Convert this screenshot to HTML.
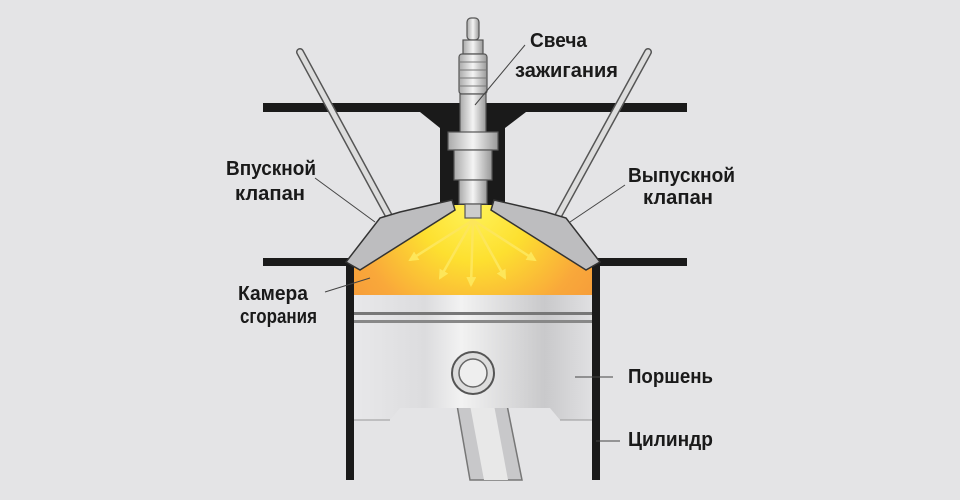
<!DOCTYPE html><html><head><meta charset="utf-8"><style>
body{margin:0;background:#e4e4e6}
svg{display:block}
text{font-family:"Liberation Sans Narrow","Liberation Sans",sans-serif;font-weight:bold;font-size:20px;fill:#1a1a1a}
</style></head><body>
<svg width="960" height="500" viewBox="0 0 960 500">
<defs>
<radialGradient id="fire" cx="473" cy="205" r="160" gradientUnits="userSpaceOnUse">
<stop offset="0" stop-color="#fff35a"/><stop offset="0.35" stop-color="#fde030"/><stop offset="0.75" stop-color="#f9a83a"/><stop offset="1" stop-color="#f59a3a"/></radialGradient>
<linearGradient id="pist" x1="0" x2="1"><stop offset="0" stop-color="#e8e8ea"/><stop offset="0.3" stop-color="#dcdcde"/><stop offset="0.45" stop-color="#f2f2f2"/><stop offset="0.8" stop-color="#c9c9cb"/><stop offset="1" stop-color="#e0e0e2"/></linearGradient>
<linearGradient id="metal" x1="0" x2="1"><stop offset="0" stop-color="#aaa"/><stop offset="0.5" stop-color="#f4f4f4"/><stop offset="1" stop-color="#999"/></linearGradient>
<marker id="ah" viewBox="0 0 10 10" refX="8" refY="5" markerWidth="4" markerHeight="4" orient="auto"><path d="M0,0 L10,5 L0,10 z" fill="#fde65a"/></marker>
</defs>
<rect width="960" height="500" fill="#e4e4e6"/>
<rect x="263" y="103" width="424" height="9" fill="#1a1a1a"/>
<polygon points="420,112 526,112 505,128 505,205 440,205 440,128" fill="#1a1a1a"/>
<polygon points="354,265 450,205 497,205 592,265 592,295 354,295" fill="url(#fire)"/>
<rect x="263" y="258" width="90" height="8" fill="#1a1a1a"/>
<rect x="597" y="258" width="90" height="8" fill="#1a1a1a"/>
<rect x="346" y="262" width="8" height="218" fill="#1a1a1a"/>
<rect x="592" y="262" width="8" height="218" fill="#1a1a1a"/>
<line x1="300" y1="52" x2="390" y2="218" stroke="#555" stroke-width="8" stroke-linecap="round"/>
<line x1="300" y1="52" x2="390" y2="218" stroke="#ddd" stroke-width="5" stroke-linecap="round"/>
<line x1="648" y1="52" x2="557" y2="218" stroke="#555" stroke-width="8" stroke-linecap="round"/>
<line x1="648" y1="52" x2="557" y2="218" stroke="#ddd" stroke-width="5" stroke-linecap="round"/>
<polygon points="346,262 380,218 400,212 452,200 455,210 360,270" fill="#bdbdbf" stroke="#333" stroke-width="1.5"/>
<polygon points="600,262 566,218 546,212 494,200 491,210 586,270" fill="#bdbdbf" stroke="#333" stroke-width="1.5"/>
<g stroke="#fde65a" stroke-width="2.5" fill="none" marker-end="url(#ah)">
<line x1="473" y1="220" x2="410" y2="260"/><line x1="473" y1="220" x2="440" y2="278"/><line x1="473" y1="220" x2="471" y2="285"/><line x1="473" y1="220" x2="505" y2="278"/><line x1="473" y1="220" x2="535" y2="260"/></g>
<polygon points="457,405 507,405 522,480 470,480" fill="#c8c8ca" stroke="#777" stroke-width="1.5"/>
<polygon points="470,405 494,405 508,480 484,480" fill="#e8e8e8"/>
<polygon points="354,295 592,295 592,420 560,420 550,408 400,408 390,420 354,420" fill="url(#pist)"/>
<line x1="354" y1="420" x2="390" y2="420" stroke="#999" stroke-width="1"/>
<line x1="560" y1="420" x2="592" y2="420" stroke="#999" stroke-width="1"/>
<rect x="354" y="312" width="238" height="3" fill="#777"/>
<rect x="354" y="320" width="238" height="3" fill="#888"/>
<circle cx="473" cy="373" r="21" fill="#ddd" stroke="#555" stroke-width="2"/>
<circle cx="473" cy="373" r="14" fill="#eee" stroke="#666" stroke-width="1.5"/>
<g stroke="#555" stroke-width="1.2">
<rect x="467" y="18" width="12" height="22" rx="4" fill="url(#metal)"/>
<rect x="463" y="40" width="20" height="14" fill="url(#metal)"/>
<rect x="459" y="54" width="28" height="40" rx="3" fill="url(#metal)"/>
<rect x="460" y="94" width="26" height="40" fill="url(#metal)"/>
<rect x="448" y="132" width="50" height="18" fill="url(#metal)"/>
<rect x="454" y="150" width="38" height="30" fill="url(#metal)"/>
<rect x="459" y="180" width="28" height="24" fill="url(#metal)"/>
<rect x="465" y="204" width="16" height="14" fill="#ccc"/>
</g>
<g stroke="#777" stroke-width="1"><line x1="460" y1="62" x2="486" y2="62"/><line x1="460" y1="70" x2="486" y2="70"/><line x1="460" y1="78" x2="486" y2="78"/><line x1="460" y1="86" x2="486" y2="86"/></g>
<g stroke="#444" stroke-width="1">
<line x1="525" y1="45" x2="475" y2="105"/>
<line x1="315" y1="178" x2="375" y2="222"/>
<line x1="625" y1="185" x2="570" y2="222"/>
<line x1="325" y1="292" x2="370" y2="278"/>
<line x1="575" y1="377" x2="613" y2="377"/>
<line x1="596" y1="441" x2="620" y2="441"/>
</g>
<text x="530" y="47" textLength="57" lengthAdjust="spacingAndGlyphs">Свеча</text>
<text x="515" y="77" textLength="103" lengthAdjust="spacingAndGlyphs">зажигания</text>
<text x="226" y="175" textLength="90" lengthAdjust="spacingAndGlyphs">Впускной</text>
<text x="235" y="200" textLength="70" lengthAdjust="spacingAndGlyphs">клапан</text>
<text x="628" y="182" textLength="107" lengthAdjust="spacingAndGlyphs">Выпускной</text>
<text x="643" y="204" textLength="70" lengthAdjust="spacingAndGlyphs">клапан</text>
<text x="238" y="300" textLength="70" lengthAdjust="spacingAndGlyphs">Камера</text>
<text x="240" y="323" textLength="77" lengthAdjust="spacingAndGlyphs">сгорания</text>
<text x="628" y="383" textLength="85" lengthAdjust="spacingAndGlyphs">Поршень</text>
<text x="628" y="446" textLength="85" lengthAdjust="spacingAndGlyphs">Цилиндр</text>
</svg>
</body></html>
